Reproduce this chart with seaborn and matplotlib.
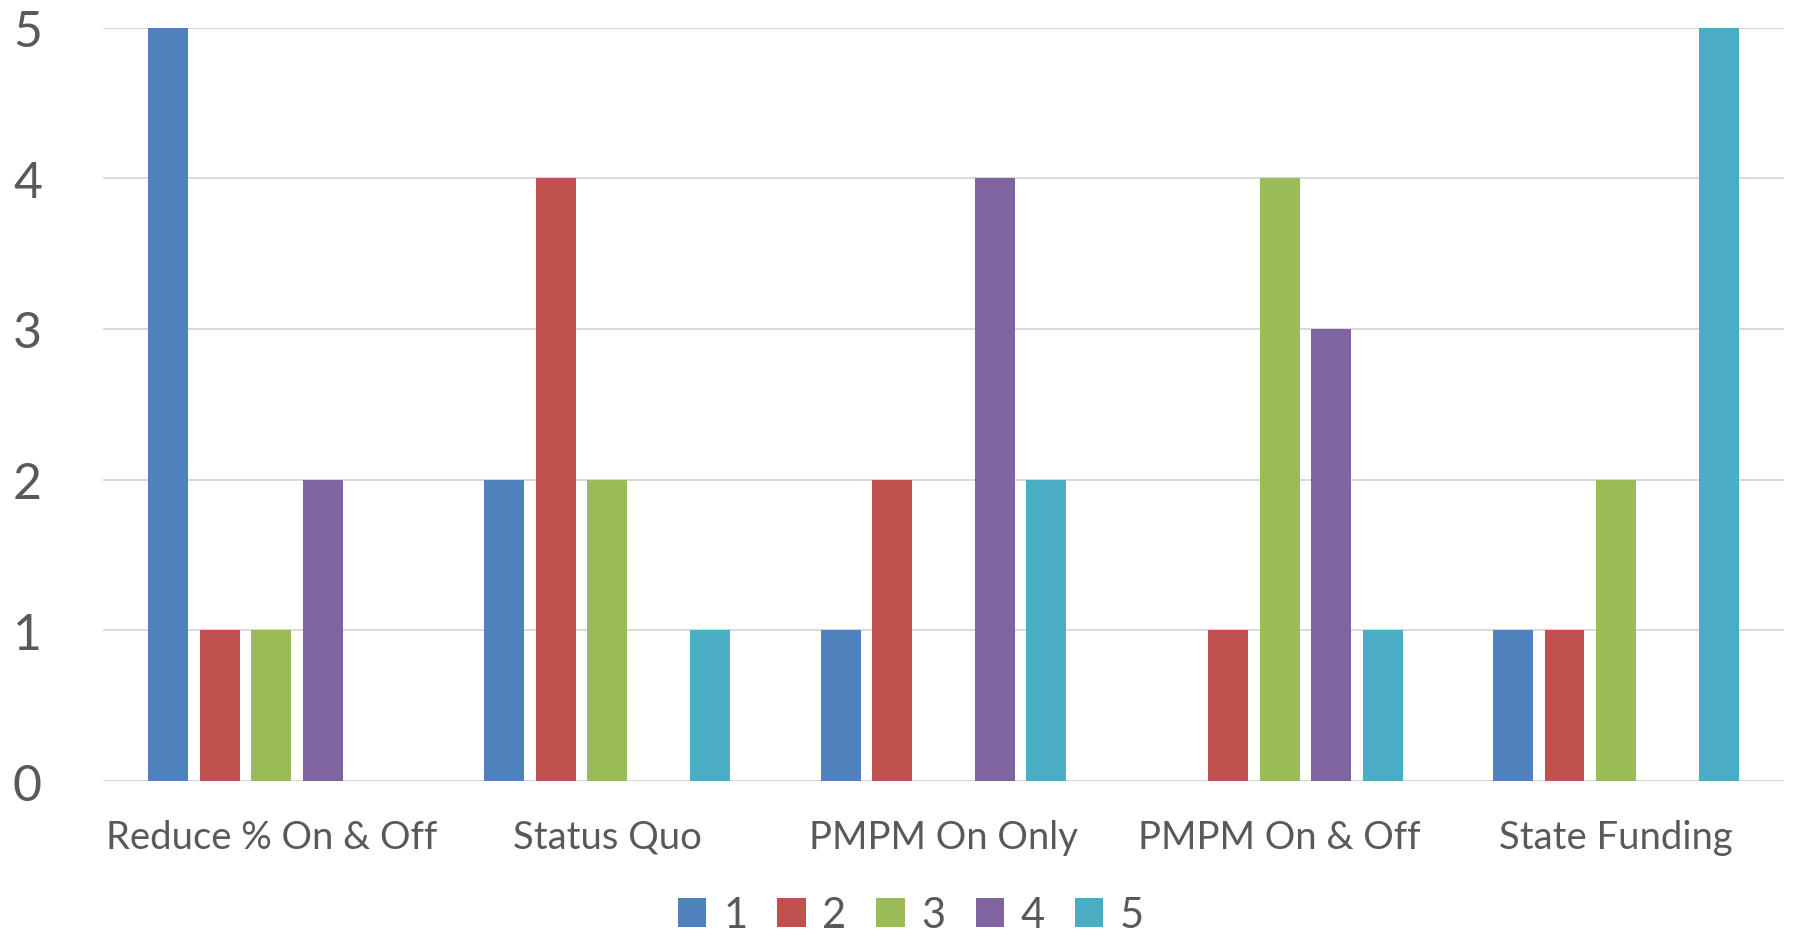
import matplotlib
matplotlib.use("Agg")
import matplotlib.pyplot as plt
import seaborn as sns
import pandas as pd

# ── Données ───────────────────────────────────────────────────────────────────
categories = ["Reduce % On & Off", "Status Quo", "PMPM On Only", "PMPM On & Off", "State Funding"]
series = ["1", "2", "3", "4", "5"]
rank_1 = [5, 2, 1, 0, 1]
rank_2 = [1, 4, 2, 1, 1]
rank_3 = [1, 2, 0, 4, 2]
rank_4 = [2, 0, 4, 3, 0]
rank_5 = [0, 1, 2, 1, 5]
colors = ["#4F81BD", "#C0504D", "#9BBB59", "#8064A2", "#4BACC6"]

values = [rank_1, rank_2, rank_3, rank_4, rank_5]
df = pd.DataFrame(
    [(cat, s, v[i]) for s, v in zip(series, values) for i, cat in enumerate(categories)],
    columns=["Option", "Rang", "Votes"],
)

# ── Figure ────────────────────────────────────────────────────────────────────
sns.set_style("white")
plt.rcParams["font.family"] = ["Lato", "DejaVu Sans"]
text_color = "#595959"

fig = plt.figure(figsize=(17.95, 9.37), dpi=100)
ax = fig.add_axes([0.0574, 0.1654, 0.9365, 0.8041])

sns.barplot(
    data=df, x="Option", y="Votes", hue="Rang", order=categories, hue_order=series,
    palette=colors, width=0.765, gap=0.223, linewidth=0, saturation=1, ax=ax,
    legend=True,
)

ax.set_ylim(0, 5)
ax.set_xlim(-0.5, 4.5)
ax.set_yticks(range(6))
ax.yaxis.grid(True, color="#D9D9D9", linewidth=1.4)
ax.set_axisbelow(True)
for s in ax.spines.values():
    s.set_visible(False)
ax.set_xlabel("")
ax.set_ylabel("")
ax.tick_params(axis="y", length=0, pad=44, labelsize=36, labelcolor=text_color)
ax.tick_params(axis="x", length=0, pad=27, labelsize=27.5, labelcolor=text_color)

handles, labels = ax.get_legend_handles_labels()
ax.get_legend().remove()
fig.legend(
    handles, labels, loc="center", bbox_to_anchor=(0.5075, 0.022), ncol=5,
    frameon=False, fontsize=30, labelcolor=text_color, borderpad=0.1,
    handlelength=0.68, handleheight=0.68, handletextpad=0.4, columnspacing=0.72,
)

fig.savefig("out.png", dpi=100)
